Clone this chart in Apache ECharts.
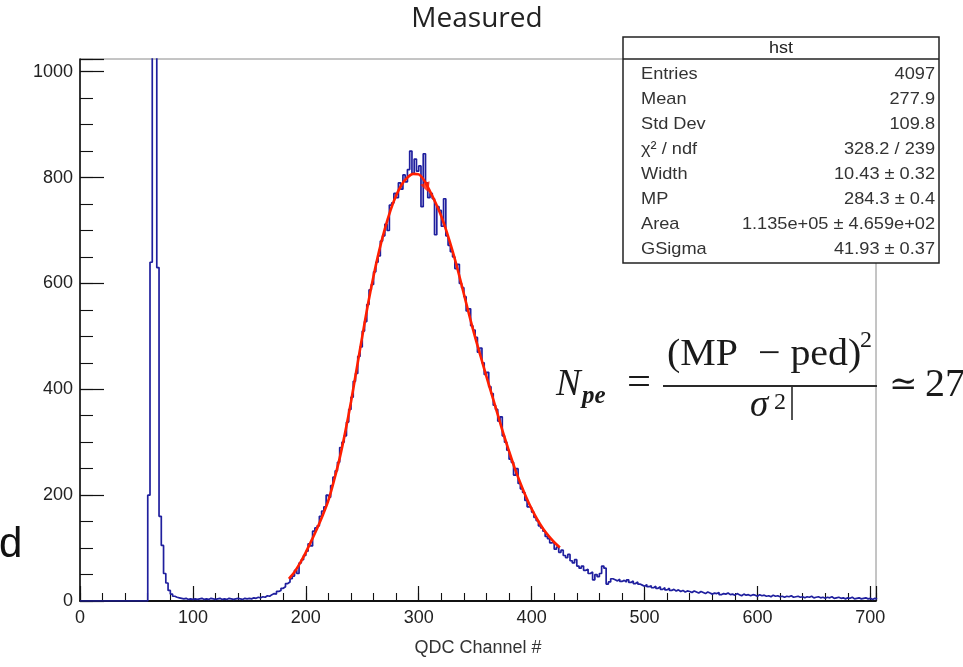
<!DOCTYPE html>
<html>
<head>
<meta charset="utf-8">
<script src="https://cdn.jsdelivr.net/npm/echarts@6/dist/echarts.min.js"></script>
<style>
  html, body { margin: 0; padding: 0; background: #ffffff; }
  #chart { width: 963px; height: 667px; }
</style>
</head>
<body>
<div id="chart"></div>
<script>
// QDC spectrum: counts per 2-channel bin, first bin starts at channel 0
const binWidth = 2;
const qdcCounts = [
  0, 0, 0, 0, 0, 0, 0, 0, 0, 0, 0, 0, 0, 0, 0, 0, 0, 0, 0, 0, 0, 0, 0, 0, 0, 0, 0, 0, 0, 0,
  200, 640, 1500, 1500, 630, 160, 105, 52, 34, 20,
  13, 9, 7, 6, 5, 4, 5, 3, 4, 3,
  4, 3, 4, 5, 3, 4, 3, 5, 4, 3,
  4, 5, 3, 4, 3, 5, 4, 3, 4, 5,
  4, 3, 5, 4, 5, 4, 6, 5, 7, 6,
  8, 7, 10, 9, 12, 14, 13, 18, 20, 24,
  27, 33, 36, 42, 47, 58, 52, 72, 78, 86,
  94, 108, 104, 132, 138, 142, 160, 170, 178, 200,
  196, 218, 234, 246, 262, 290, 300, 312, 338, 362,
  385, 415, 430, 462, 480, 510, 528, 560, 588, 598,
  622, 640, 652, 680, 690, 712, 700, 748, 752, 770,
  762, 790, 778, 805, 792, 815, 850, 808, 835, 812,
  822, 745, 845, 790, 762, 770, 760, 692, 745, 738,
  708, 760, 690, 672, 660, 650, 628, 636, 600, 592,
  575, 548, 552, 520, 512, 498, 470, 478, 450, 428,
  432, 405, 392, 370, 362, 340, 348, 312, 300, 285,
  268, 262, 238, 250, 222, 212, 205, 190, 178, 176,
  168, 158, 152, 142, 138, 132, 122, 118, 110, 112,
  98, 102, 92, 96, 86, 82, 88, 76, 72, 78,
  66, 62, 66, 58, 60, 52, 55, 40, 50, 46,
  52, 66, 62, 32, 36, 42, 40, 38, 41, 37,
  39, 36, 40, 35, 38, 33, 36, 32, 30, 28,
  31, 27, 29, 25, 28, 24, 27, 22, 25, 21,
  24, 20, 22, 19, 21, 18, 20, 17, 19, 18,
  16, 19, 17, 15, 18, 16, 14, 17, 15, 13,
  15, 14, 16, 12, 14, 13, 15, 12, 13, 11,
  14, 12, 10, 13, 11, 12, 10, 12, 11, 9,
  12, 10, 11, 9, 10, 8, 11, 9, 10, 8,
  9, 7, 9, 8, 10, 7, 8, 9, 7, 8,
  6, 8, 7, 9, 6, 7, 8, 6, 7, 5,
  7, 6, 8, 5, 6, 7, 5, 6, 4, 6,
  5, 7, 4, 5, 6, 4, 5, 6, 4, 5,
  3, 5, 4
];

// Landau (x) Gauss fit curve, sampled along the fit range
const fitChannels = [
  185, 190, 195, 200, 205, 210, 215, 220, 225, 230, 235, 240, 245, 250, 255, 260,
  265, 270, 275, 280, 285, 290, 295, 300, 305, 310, 315, 320, 325, 330, 335, 340,
  345, 350, 355, 360, 365, 370, 375, 380, 385, 390, 395, 400, 405, 410, 415, 420, 425
];
const fitValues = [
  42, 55, 72, 92, 114, 137, 162, 190, 228, 270, 320, 376, 438, 500, 560, 614,
  662, 703, 738, 766, 787, 800, 807, 806, 794, 774, 752, 727, 696, 661, 622, 580,
  538, 498, 461, 424, 388, 352, 316, 283, 251, 223, 197, 174, 154, 137, 123, 111, 101
];
const fitMarker = [[307, 781]];

// Axis tick labels
const xTickLabels = [0, 100, 200, 300, 400, 500, 600, 700];
const yTickLabels = [0, 200, 400, 600, 800, 1000];

// Statistics box
const statTitle = 'hst';
const statLabels = ['Entries', 'Mean', 'Std Dev', 'χ² / ndf', 'Width', 'MP', 'Area', 'GSigma'];
const statValues = ['4097', '277.9', '109.8', '328.2 / 239', '10.43 ± 0.32', '284.3 ± 0.4',
                    '1.135e+05 ± 4.659e+02', '41.93 ± 0.37'];

// Build the step outline of the histogram from bin edges
const histPoints = qdcCounts.map((v, i) => [i * binWidth, v]);
histPoints.push([qdcCounts.length * binWidth, qdcCounts[qdcCounts.length - 1]]);
const fitPoints = fitChannels.map((c, i) => [c, fitValues[i]]);

const X_MIN = 0, X_MAX = 705, Y_MIN = 0, Y_MAX = 1024;
const sans = '"Liberation Sans", Arial, sans-serif';
const serif = '"Liberation Serif", "DejaVu Serif", serif';

const chart = echarts.init(document.getElementById('chart'), null, { renderer: 'canvas' });

// Stats box graphics
const boxLeft = 623, boxRight = 939, boxTop = 37, boxBottom = 263, headerBottom = 59;
const statGraphics = [
  { type: 'rect', shape: { x: boxLeft, y: boxTop, width: boxRight - boxLeft, height: boxBottom - boxTop },
    style: { fill: '#ffffff', stroke: '#222', lineWidth: 1.5 }, z: 10 },
  { type: 'line', shape: { x1: boxLeft, y1: headerBottom, x2: boxRight, y2: headerBottom },
    style: { stroke: '#222', lineWidth: 1.5 }, z: 11 },
  { type: 'text', x: (boxLeft + boxRight) / 2, y: 48, z: 11, scaleX: 1.06,
    style: { text: statTitle, font: '17px ' + sans, fill: '#222', align: 'center', verticalAlign: 'middle' } }
];
statLabels.forEach((lab, i) => {
  const y = 74 + i * 25.1;
  statGraphics.push({ type: 'text', x: 641, y: y, z: 11, scaleX: 1.07,
    style: { text: lab, font: '17px ' + sans, fill: '#333', align: 'left', verticalAlign: 'middle' } });
  statGraphics.push({ type: 'text', x: 935, y: y, z: 11, scaleX: 1.07,
    style: { text: statValues[i], font: '17px ' + sans, fill: '#333', align: 'right', verticalAlign: 'middle' } });
});

// Photo-electron estimate written beside the spectrum
const formulaGraphics = [
  { type: 'text', x: 556, y: 385, z: 12,
    style: { text: 'N', font: 'italic 37px ' + serif, fill: '#1a1a1a', align: 'left', verticalAlign: 'middle' } },
  { type: 'text', x: 582, y: 397, z: 12,
    style: { text: 'pe', font: 'italic bold 25px ' + serif, fill: '#1a1a1a', align: 'left', verticalAlign: 'middle' } },
  { type: 'text', x: 627, y: 384, z: 12, scaleX: 1.15,
    style: { text: '=', font: '37px ' + serif, fill: '#1a1a1a', align: 'left', verticalAlign: 'middle' } },
  { type: 'line', shape: { x1: 663, y1: 386, x2: 877, y2: 386 }, z: 12,
    style: { stroke: '#2a2a2a', lineWidth: 2 } },
  { type: 'text', x: 667, y: 355, z: 12, scaleX: 1.05,
    style: { text: '(MP  − ped)', font: '38px ' + serif, fill: '#1a1a1a', align: 'left', verticalAlign: 'middle' } },
  { type: 'text', x: 860, y: 341, z: 12,
    style: { text: '2', font: '24px ' + serif, fill: '#1a1a1a', align: 'left', verticalAlign: 'middle' } },
  { type: 'text', x: 750, y: 406, z: 12,
    style: { text: 'σ', font: 'italic 37px ' + serif, fill: '#1a1a1a', align: 'left', verticalAlign: 'middle' } },
  { type: 'text', x: 774, y: 403, z: 12,
    style: { text: '2', font: '24px ' + serif, fill: '#1a1a1a', align: 'left', verticalAlign: 'middle' } },
  { type: 'line', shape: { x1: 792, y1: 387, x2: 792, y2: 420 }, z: 12,
    style: { stroke: '#1a1a1a', lineWidth: 1.5 } },
  { type: 'text', x: 889, y: 386, z: 12,
    style: { text: '≃', font: '34px "DejaVu Serif", serif', fill: '#1a1a1a', align: 'left', verticalAlign: 'middle' } },
  { type: 'text', x: 925, y: 385, z: 12,
    style: { text: '27', font: '40px ' + serif, fill: '#1a1a1a', align: 'left', verticalAlign: 'middle' } }
];

const otherGraphics = [
  { type: 'text', x: 477, y: 19, z: 12,
    style: { text: 'Measured', font: '28px "Open Sans", sans-serif', fill: '#222', align: 'center', verticalAlign: 'middle' } },
  { type: 'text', x: -1, y: 545, z: 12,
    style: { text: 'd', font: '42px ' + sans, fill: '#111', align: 'left', verticalAlign: 'middle' } }
];

const labelStyle = { fontFamily: sans, fontSize: 18, color: '#222' };

const option = {
  animation: false,
  backgroundColor: '#ffffff',
  grid: { left: 80, right: 87, top: 59, bottom: 66, show: true, borderColor: '#8a8a8a', borderWidth: 1,
          containLabel: false },
  xAxis: [
    { type: 'value', min: X_MIN, max: X_MAX, interval: 100, position: 'bottom', gridIndex: 0,
      axisLine: { show: true, onZero: false, lineStyle: { color: '#111', width: 1.8 } },
      axisTick: { show: true, inside: true, length: 15, lineStyle: { color: '#111', width: 1.2 } },
      axisLabel: Object.assign({ margin: 8,
        formatter: v => (xTickLabels.indexOf(v) >= 0 ? String(v) : '') }, labelStyle),
      splitLine: { show: false },
      name: 'QDC Channel #', nameLocation: 'middle', nameGap: 38,
      nameTextStyle: { fontFamily: sans, fontSize: 18, color: '#333' } },
    { type: 'value', min: X_MIN, max: X_MAX, interval: 20, position: 'bottom', gridIndex: 0,
      axisLine: { show: false, onZero: false },
      axisTick: { show: true, inside: true, length: 8, lineStyle: { color: '#111', width: 1.1 } },
      axisLabel: { show: false }, splitLine: { show: false } }
  ],
  yAxis: [
    { type: 'value', min: Y_MIN, max: Y_MAX, interval: 200, position: 'left', gridIndex: 0,
      axisLine: { show: true, onZero: false, lineStyle: { color: '#111', width: 1.6 } },
      axisTick: { show: true, inside: true, length: 24, lineStyle: { color: '#111', width: 1.2 } },
      axisLabel: Object.assign({ margin: 7,
        formatter: v => (yTickLabels.indexOf(v) >= 0 ? String(v) : '') }, labelStyle),
      splitLine: { show: false } },
    { type: 'value', min: Y_MIN, max: Y_MAX, interval: 50, position: 'left', gridIndex: 0,
      axisLine: { show: false, onZero: false },
      axisTick: { show: true, inside: true, length: 13, lineStyle: { color: '#111', width: 1.1 } },
      axisLabel: { show: false }, splitLine: { show: false } }
  ],
  series: [
    { name: 'hst', type: 'line', xAxisIndex: 0, yAxisIndex: 0, data: histPoints, step: 'end',
      showSymbol: false, symbol: 'none', clip: true,
      lineStyle: { color: '#1f1f9e', width: 1.7 }, z: 3 },
    { name: 'fit', type: 'line', xAxisIndex: 0, yAxisIndex: 0, data: fitPoints, smooth: 0.3,
      showSymbol: false, symbol: 'none', clip: true,
      lineStyle: { color: '#ff1e00', width: 2.6 }, z: 4 },
    { name: 'fitMark', type: 'scatter', xAxisIndex: 0, yAxisIndex: 0, data: fitMarker,
      symbol: 'triangle', symbolSize: 10, symbolRotate: 200,
      itemStyle: { color: '#ff1e00' }, z: 5 }
  ],
  graphic: { elements: statGraphics.concat(formulaGraphics, otherGraphics) }
};

chart.setOption(option);
</script>
</body>
</html>
